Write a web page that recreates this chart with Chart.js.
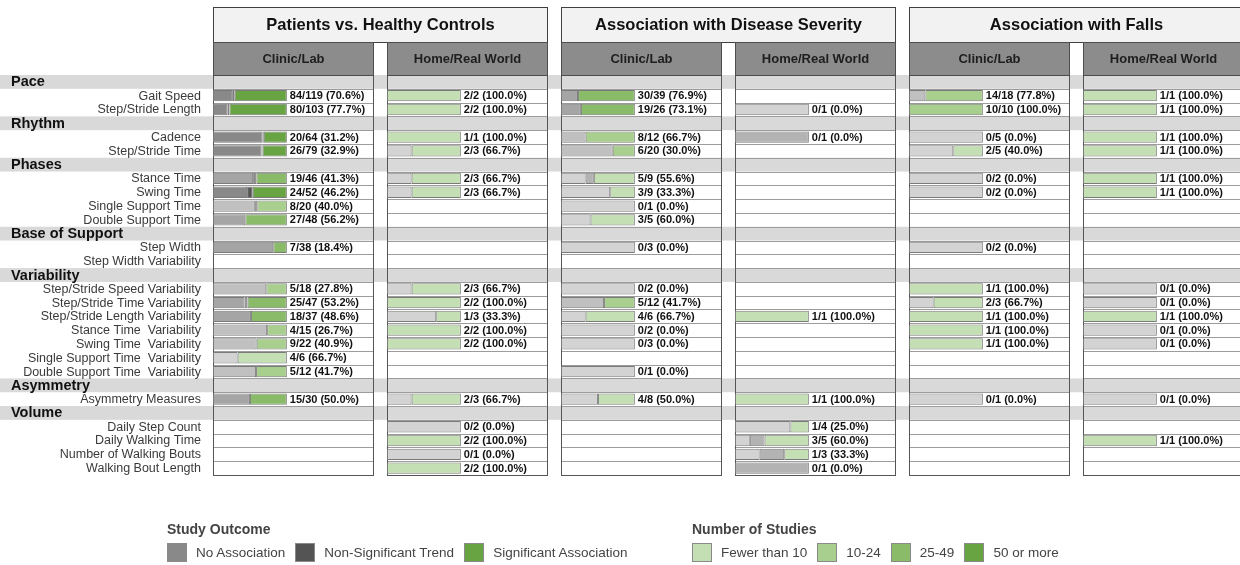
<!DOCTYPE html>
<html lang="en">
<head>
<meta charset="UTF-8">
<title>Gait Measures Evidence Map</title>
<script src="https://cdn.jsdelivr.net/npm/chart.js"></script>
<style>
  body { margin: 0; background: #fff; font-family: 'Liberation Sans', Arial, sans-serif; overflow: hidden; width: 1240px; height: 565px; }
  #chart { position: absolute; left: 0; top: 0; }
  .legend { position: absolute; color: #444; }
  .legend h4 { margin: 0 0 6px 0; font-size: 14px; font-weight: bold; line-height: 16px; }
  .items { display: flex; align-items: center; font-size: 13.5px; }
  .sw { width: 20px; height: 19px; border: 1px solid #8a8a8a; box-sizing: border-box; margin-right: 9px; }
  .items .t { margin-right: 10px; }
</style>
</head>
<body>
<canvas id="chart" width="1250" height="565"></canvas>
<div class="legend" style="left:167px; top:521px;"><h4>Study Outcome</h4><div class="items" id="outcomeLegend"></div></div>
<div class="legend" style="left:692px; top:521px;"><h4>Number of Studies</h4><div class="items" id="tierLegend"></div></div>
<script>
const rowLabels = [
  'Pace', 'Gait Speed', 'Step/Stride Length',
  'Rhythm', 'Cadence', 'Step/Stride Time',
  'Phases', 'Stance Time', 'Swing Time', 'Single Support Time', 'Double Support Time',
  'Base of Support', 'Step Width', 'Step Width Variability',
  'Variability', 'Step/Stride Speed Variability', 'Step/Stride Time Variability', 'Step/Stride Length Variability',
  'Stance Time  Variability', 'Swing Time  Variability', 'Single Support Time  Variability', 'Double Support Time  Variability',
  'Asymmetry', 'Asymmetry Measures',
  'Volume', 'Daily Step Count', 'Daily Walking Time', 'Number of Walking Bouts', 'Walking Bout Length'
];
const headerRows = ['Pace', 'Rhythm', 'Phases', 'Base of Support', 'Variability', 'Asymmetry', 'Volume'];
const groupTitles = ['Patients vs. Healthy Controls', 'Association with Disease Severity', 'Association with Falls'];
const settingTitles = ['Clinic/Lab', 'Home/Real World'];

// each cell: [no association, non-significant trend, significant association] study counts
const pvhcClinic = [
  null, [32, 3, 84], [20, 3, 80],
  null, [43, 1, 20], [52, 1, 26],
  null, [25, 2, 19], [24, 4, 24], [11, 1, 8], [21, 0, 27],
  null, [31, 0, 7], null,
  null, [13, 0, 5], [20, 2, 25], [19, 0, 18], [11, 0, 4], [13, 0, 9], [2, 0, 4], [7, 0, 5],
  null, [15, 0, 15],
  null, null, null, null, null
];
const pvhcHome = [
  null, [0, 0, 2], [0, 0, 2],
  null, [0, 0, 1], [1, 0, 2],
  null, [1, 0, 2], [1, 0, 2], null, null,
  null, null, null,
  null, [1, 0, 2], [0, 0, 2], [2, 0, 1], [0, 0, 2], [0, 0, 2], null, null,
  null, [1, 0, 2],
  null, [2, 0, 0], [0, 0, 2], [1, 0, 0], [0, 0, 2]
];
const dsClinic = [
  null, [9, 0, 30], [7, 0, 19],
  null, [4, 0, 8], [14, 0, 6],
  null, [3, 1, 5], [6, 0, 3], [1, 0, 0], [2, 0, 3],
  null, [3, 0, 0], null,
  null, [2, 0, 0], [7, 0, 5], [2, 0, 4], [2, 0, 0], [3, 0, 0], null, [1, 0, 0],
  null, [4, 0, 4],
  null, null, null, null, null
];
const dsHome = [
  null, null, [1, 0, 0],
  null, [0, 1, 0], null,
  null, null, null, null, null,
  null, null, null,
  null, null, null, [0, 0, 1], null, null, null, null,
  null, [0, 0, 1],
  null, [3, 0, 1], [1, 1, 3], [1, 1, 1], [0, 1, 0]
];
const fallsClinic = [
  null, [4, 0, 14], [0, 0, 10],
  null, [5, 0, 0], [3, 0, 2],
  null, [2, 0, 0], [2, 0, 0], null, null,
  null, [2, 0, 0], null,
  null, [0, 0, 1], [1, 0, 2], [0, 0, 1], [0, 0, 1], [0, 0, 1], null, null,
  null, [1, 0, 0],
  null, null, null, null, null
];
const fallsHome = [
  null, [0, 0, 1], [0, 0, 1],
  null, [0, 0, 1], [0, 0, 1],
  null, [0, 0, 1], [0, 0, 1], null, null,
  null, null, null,
  null, [1, 0, 0], [1, 0, 0], [0, 0, 1], [1, 0, 0], [1, 0, 0], null, null,
  null, [1, 0, 0],
  null, null, [0, 0, 1], null, null
];
const panels = [pvhcClinic, pvhcHome, dsClinic, dsHome, fallsClinic, fallsHome];

const outcomeLabels = ['No Association', 'Non-Significant Trend', 'Significant Association'];
const tierLabels = ['Fewer than 10', '10-24', '25-49', '50 or more'];
const noAssocColors = ['#d3d3d3', '#c0c0c0', '#a5a5a5', '#898989'];
const trendColors = ['#b3b3b3', '#9a9a9a', '#777777', '#545454'];
const sigColors = ['#c5dfb4', '#a8cf8d', '#89bb68', '#69a443'];
const palettes = [noAssocColors, trendColors, sigColors];

function tier(n) { return n < 10 ? 0 : n < 25 ? 1 : n < 50 ? 2 : 3; }
function total(c) { return c[0] + c[1] + c[2]; }
// one decimal, ties to even (31.25 -> 31.2)
function fmtPct(p) {
  const x = p * 10, r = Math.floor(x), d = x - r;
  const v = d > 0.5 + 1e-9 ? r + 1 : d < 0.5 - 1e-9 ? r : (r % 2 === 0 ? r : r + 1);
  return (v / 10).toFixed(1);
}

const datasets = [];
panels.forEach((cells, p) => {
  for (let k = 0; k < 3; k++) {
    datasets.push({
      label: outcomeLabels[k],
      xAxisID: 'x' + p,
      stack: 'cells',   // same name everywhere; each x axis still stacks on its own
      data: cells.map(c => (c && c[k]) ? c[k] / total(c) * 100 : null),
      backgroundColor: cells.map(c => c ? palettes[k][tier(total(c))] : 'transparent'),
      borderColor: '#7a7a7a',
      borderWidth: 1,
      borderSkipped: false,
      categoryPercentage: 1,
      barPercentage: 0.82
    });
  }
});

const scales = { y: { type: 'category', display: false, offset: true, stacked: true } };
for (let p = 0; p < 6; p++) {
  scales['x' + p] = { type: 'linear', position: 'bottom', stack: 'cols', stackWeight: 161, weight: p * 2, min: 0, max: 218, stacked: true, display: false };
  if (p < 5) scales['gap' + p] = { type: 'linear', position: 'bottom', stack: 'cols', stackWeight: 13, weight: p * 2 + 1, min: 0, max: 1, display: false };
}

const FONT = '"Liberation Sans", Arial, sans-serif';

const gridPlugin = {
  id: 'grid',
  beforeDatasetsDraw(chart) {
    const ctx = chart.ctx, ys = chart.scales.y, area = chart.chartArea;
    const step = (area.bottom - area.top) / rowLabels.length;
    ctx.save();
    // header bands
    rowLabels.forEach((lab, i) => {
      if (headerRows.includes(lab)) {
        ctx.fillStyle = '#d9d9d9';
        ctx.fillRect(0, ys.getPixelForValue(i) - step / 2, chart.width, step);
      }
    });
    // panel cells
    for (let p = 0; p < 6; p++) {
      const sx = chart.scales['x' + p];
      const l = Math.round(sx.left) + 0.5, r = Math.round(sx.right) - 0.5;
      ctx.strokeStyle = '#9c9c9c';
      ctx.lineWidth = 1;
      rowLabels.forEach((lab, i) => {
        if (headerRows.includes(lab)) return;
        const t = Math.round(ys.getPixelForValue(i) - step / 2) + 0.5;
        const b = Math.round(ys.getPixelForValue(i) + step / 2) + 0.5;
        ctx.beginPath();
        ctx.moveTo(l, t); ctx.lineTo(r, t);
        ctx.moveTo(l, b); ctx.lineTo(r, b);
        ctx.stroke();
      });
      ctx.strokeStyle = '#555555';
      ctx.strokeRect(l, Math.round(area.top) + 0.5, r - l, Math.round(area.bottom - area.top));
    }
    // row labels
    ctx.textBaseline = 'middle';
    rowLabels.forEach((lab, i) => {
      const y = ys.getPixelForValue(i) + 0.5;
      if (headerRows.includes(lab)) {
        ctx.font = 'bold 14.5px ' + FONT;
        ctx.fillStyle = '#111';
        ctx.textAlign = 'left';
        ctx.fillText(lab, 11, y);
      } else {
        ctx.font = '12.5px ' + FONT;
        ctx.fillStyle = '#3a3a3a';
        ctx.textAlign = 'right';
        ctx.fillText(lab, 201, y);
      }
    });
    // column headers
    groupTitles.forEach((title, g) => {
      const a = chart.scales['x' + (2 * g)], b = chart.scales['x' + (2 * g + 1)];
      const l = Math.round(a.left) + 0.5, r = Math.round(b.right) - 0.5;
      ctx.fillStyle = '#f2f2f2';
      ctx.fillRect(l, 7.5, r - l, 35);
      ctx.strokeStyle = '#404040';
      ctx.strokeRect(l, 7.5, r - l, 35);
      ctx.fillStyle = '#111';
      ctx.font = 'bold 16.5px ' + FONT;
      ctx.textAlign = 'center';
      ctx.fillText(title, (l + r) / 2, 25.5);
      [a, b].forEach((sx, s) => {
        const sl = Math.round(sx.left) + 0.5, sr = Math.round(sx.right) - 0.5;
        const top = 42.5, h = Math.round(area.top) - 42;
        ctx.fillStyle = '#8c8c8c';
        ctx.fillRect(sl, top, sr - sl, h);
        ctx.strokeStyle = '#4d4d4d';
        ctx.strokeRect(sl, top, sr - sl, h);
        ctx.fillStyle = '#1e1e1e';
        ctx.font = 'bold 13px ' + FONT;
        ctx.textAlign = 'center';
        ctx.fillText(settingTitles[s], (sl + sr) / 2, top + h / 2);
      });
    });
    ctx.restore();
  },
  afterDatasetsDraw(chart) {
    const ctx = chart.ctx, ys = chart.scales.y;
    ctx.save();
    ctx.font = 'bold 11px ' + FONT;
    ctx.fillStyle = '#111';
    ctx.textAlign = 'left';
    ctx.textBaseline = 'middle';
    panels.forEach((cells, p) => {
      const sx = chart.scales['x' + p];
      cells.forEach((c, i) => {
        if (!c) return;
        const n = total(c);
        ctx.fillText(c[2] + '/' + n + ' (' + fmtPct(c[2] / n * 100) + '%)', sx.getPixelForValue(100) + 3, ys.getPixelForValue(i) + 0.5);
      });
    });
    ctx.restore();
  }
};

new Chart(document.getElementById('chart'), {
  type: 'bar',
  data: { labels: rowLabels, datasets: datasets },
  options: {
    indexAxis: 'y',
    responsive: false,
    animation: false,
    layout: { padding: { left: 213, right: 6, top: 75, bottom: 90 } },
    scales: scales,
    plugins: { legend: { display: false }, tooltip: { enabled: false }, title: { display: false } }
  },
  plugins: [gridPlugin]
});

// legends
const outcomeLegend = document.getElementById('outcomeLegend');
outcomeLabels.forEach((lab, k) => {
  outcomeLegend.insertAdjacentHTML('beforeend', '<div class="sw" style="background:' + palettes[k][3] + '"></div><span class="t">' + lab + '</span>');
});
const tierLegend = document.getElementById('tierLegend');
tierLabels.forEach((lab, t) => {
  tierLegend.insertAdjacentHTML('beforeend', '<div class="sw" style="background:' + sigColors[t] + '"></div><span class="t">' + lab + '</span>');
});
</script>
</body>
</html>
